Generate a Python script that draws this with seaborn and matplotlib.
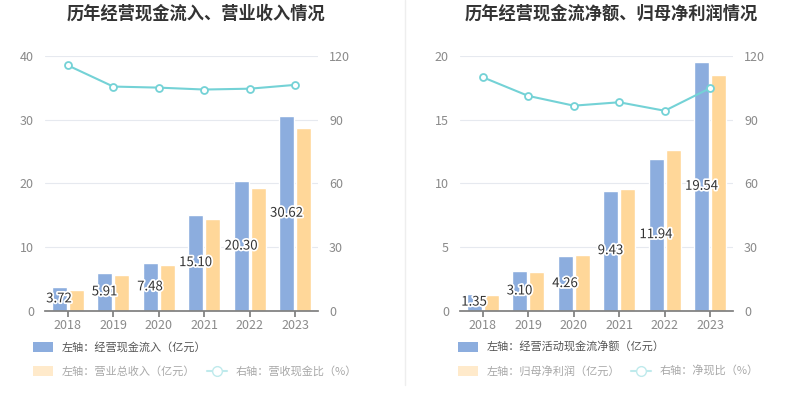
import numpy as np
import pandas as pd
import seaborn as sns
import matplotlib.pyplot as plt
import matplotlib.patheffects as pe
from matplotlib.patches import Patch
from matplotlib.lines import Line2D

years = ["2018", "2019", "2020", "2021", "2022", "2023"]

# left chart
cash_in = [3.72, 5.91, 7.48, 15.10, 20.30, 30.62]
revenue = [3.25, 5.60, 7.12, 14.45, 19.30, 28.70]
cash_ratio = [115.6, 105.6, 105.1, 104.2, 104.6, 106.4]

# right chart
net_cash = [1.35, 3.10, 4.26, 9.43, 11.94, 19.54]
net_profit = [1.24, 3.05, 4.41, 9.58, 12.63, 18.53]
net_ratio = [110.0, 101.2, 96.6, 98.2, 94.2, 104.9]

BLUE = "#8cadde"
ORANGE = "#ffd799"
TEAL = "#74d2d6"
FONT = ["Noto Sans CJK SC", "DejaVu Sans"]

sns.set_theme(style="white")
plt.rcParams["font.family"] = FONT


def draw_panel(fig, rect, title, title_x, bars1, bars2, line, names, ylim, yticks, leg_x):
    ax = fig.add_axes(rect)
    df = pd.DataFrame({
        "year": years * 2,
        "value": bars1 + bars2,
        "series": [names[0]] * 6 + [names[1]] * 6,
    })
    sns.barplot(data=df, x="year", y="value", hue="series", order=years,
                palette=[BLUE, ORANGE], width=0.76, gap=0.13, ax=ax,
                legend=False, saturation=1)
    ax.set_xlim(-0.5, 5.5)
    ax.set_ylim(*ylim)
    ax.set_yticks(yticks)
    ax.set_xlabel("")
    ax.set_ylabel("")
    for s in ["top", "right", "left"]:
        ax.spines[s].set_visible(False)
    ax.spines["bottom"].set_color("#7f7f7f")
    ax.grid(axis="y", color="#e6e9ef", lw=0.8)
    ax.set_axisbelow(True)
    ax.tick_params(axis="y", length=0, labelsize=9, labelcolor="#8a8a8a", pad=8)
    ax.tick_params(axis="x", length=4, color="#7f7f7f", labelsize=9,
                   labelcolor="#8a8a8a", bottom=True, pad=2)

    # value labels on the first series
    for container in ax.containers[:1]:
        for bar, v in zip(container, bars1):
            ax.text(bar.get_x() + bar.get_width() / 2, v / 2, f"{v:.2f}",
                    ha="center", va="center", fontsize=9.5, color="#333333",
                    path_effects=[pe.withStroke(linewidth=2.5, foreground="white")])

    ax2 = ax.twinx()
    sns.lineplot(x=np.arange(6), y=line, ax=ax2, color=TEAL, lw=1.5,
                 marker="o", markersize=5, markerfacecolor="white",
                 markeredgecolor=TEAL, markeredgewidth=1.3)
    ax2.set_ylim(0, 120)
    ax2.set_yticks([0, 30, 60, 90, 120])
    for s in ["top", "right", "left", "bottom"]:
        ax2.spines[s].set_visible(False)
    ax2.tick_params(axis="y", length=0, labelsize=9, labelcolor="#8a8a8a", pad=8)
    ax2.grid(False)

    fig.text(title_x, 1 - 14 / 416, title, ha="center", va="center",
             fontsize=12.4, fontweight="bold", color="#333333")

    h1 = [Patch(facecolor=BLUE, edgecolor="none")]
    leg1 = ax.legend(h1, [names[0]], loc="upper left",
                     bbox_to_anchor=(leg_x, -0.105), frameon=False,
                     handlelength=1.8, handleheight=1.0, fontsize=8,
                     labelcolor="#555555", borderaxespad=0)
    ax.add_artist(leg1)
    h2 = [Patch(facecolor="#ffeacb", edgecolor="none"),
          Line2D([0], [0], color="#bfeaec", marker="o", markersize=7,
                 markerfacecolor="white", markeredgecolor="#bfeaec")]
    ax.legend(h2, [names[1], names[2]], loc="upper left",
              bbox_to_anchor=(leg_x, -0.2), frameon=False, ncol=2,
              handlelength=1.8, handleheight=1.0, fontsize=8,
              labelcolor="#a8a8a8", columnspacing=1.0, borderaxespad=0)
    return ax


fig = plt.figure(figsize=(8.07, 4.16), dpi=100)

draw_panel(fig, [45 / 807, 1 - 310.7 / 416, 273 / 807, 254.7 / 416],
           "历年经营现金流入、营业收入情况", 196 / 807,
           cash_in, revenue, cash_ratio,
           ["左轴：经营现金流入（亿元）", "左轴：营业总收入（亿元）", "右轴：营收现金比（%）"],
           (0, 40), [0, 10, 20, 30, 40], -0.06)

draw_panel(fig, [460 / 807, 1 - 310.7 / 416, 273 / 807, 254.7 / 416],
           "历年经营现金流净额、归母净利润情况", 611 / 807,
           net_cash, net_profit, net_ratio,
           ["左轴：经营活动现金流净额（亿元）", "左轴：归母净利润（亿元）", "右轴：净现比（%）"],
           (0, 20), [0, 5, 10, 15, 20], -0.025)

fig.add_artist(Line2D([405 / 807, 405 / 807], [1 - 385 / 416, 1.0],
                      color="#eeeeee", lw=1))

fig.savefig("out.png", dpi=100)
